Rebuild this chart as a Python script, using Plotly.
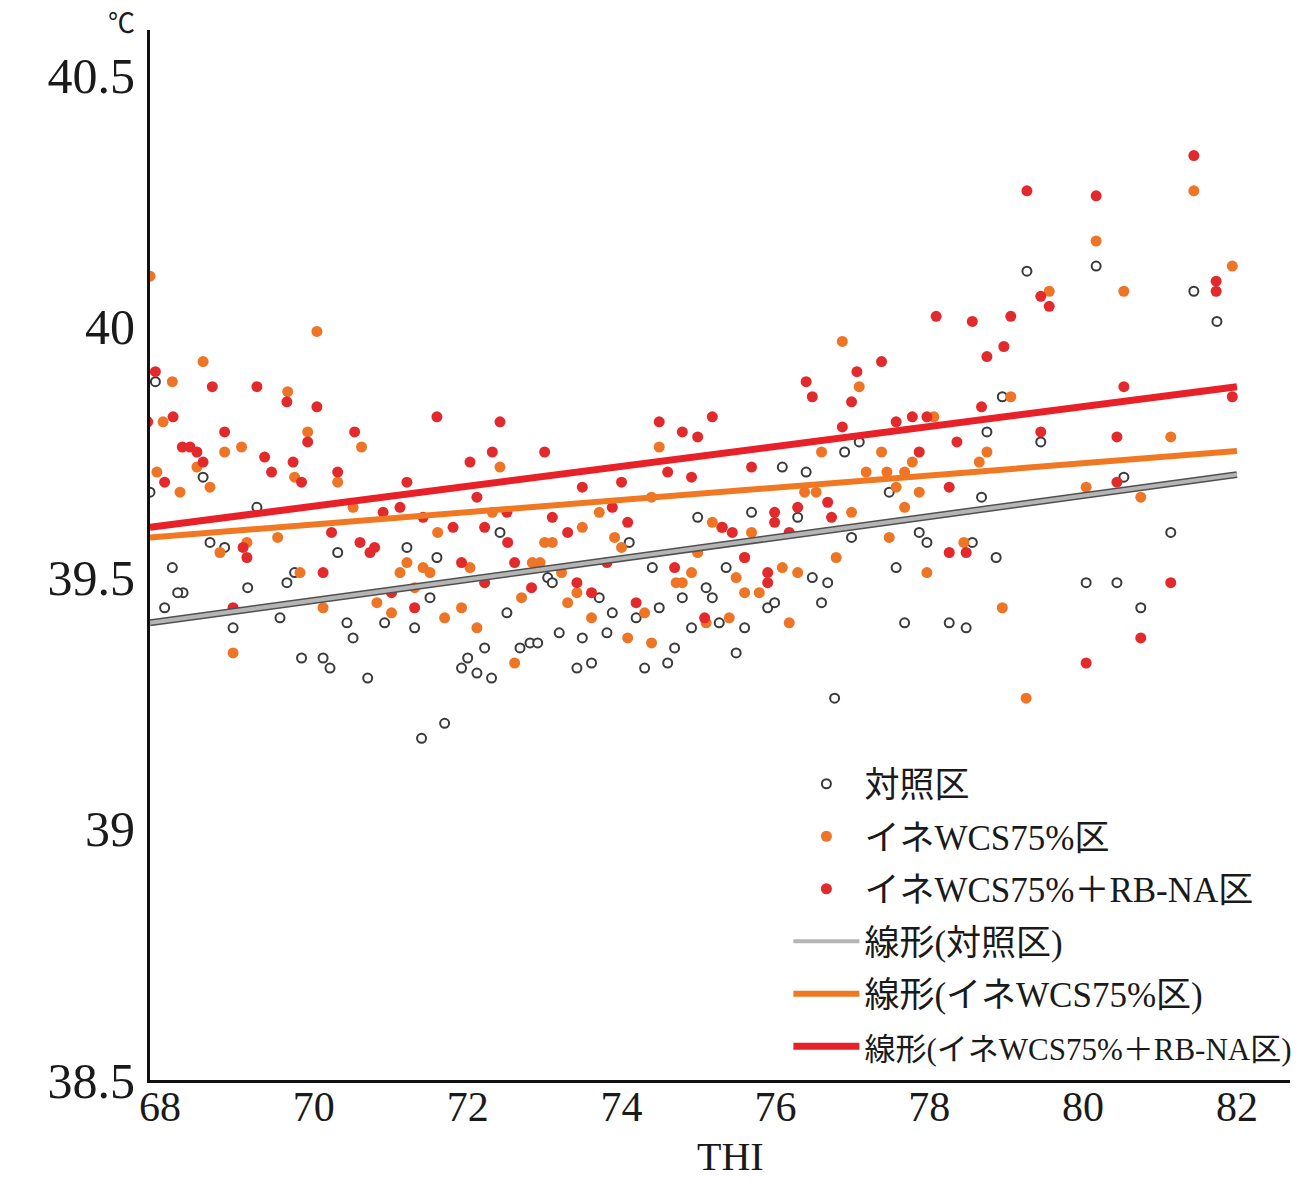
import plotly.graph_objects as go

# ---- data ----
ctrl_thi = [67.87, 67.94, 68.16, 68.06, 68.30, 68.23, 68.56, 68.65, 68.84, 69.26, 69.14, 68.95, 69.56, 69.65,
            69.75, 69.84, 70.12, 70.21, 70.31, 70.43, 70.51, 70.70, 70.92, 71.21, 71.31, 71.40, 71.51, 71.60,
            71.70, 71.92, 72.00, 72.12, 72.22, 72.31, 72.42, 72.51, 72.68, 72.81, 72.91, 73.04, 73.10, 73.19,
            73.42, 73.49, 73.61, 73.71, 73.81, 73.88, 74.10, 74.19, 74.30, 74.40, 74.49, 74.60, 74.69, 74.79,
            74.91, 74.99, 75.10, 75.18, 75.27, 75.36, 75.49, 75.60, 75.69, 75.90, 75.99, 76.09, 76.29, 76.40,
            76.48, 76.60, 76.68, 76.77, 76.90, 76.99, 77.09, 77.48, 77.57, 77.68, 77.87, 77.97, 78.26, 78.48,
            78.56, 78.68, 78.75, 78.87, 78.95, 79.27, 79.45, 80.04, 80.17, 80.44, 80.53, 80.75, 81.14, 81.44,
            81.74]
ctrl_temp = [39.67, 39.89, 39.52, 39.44, 39.47, 39.47, 39.70, 39.57, 39.56, 39.64, 39.48, 39.40, 39.42, 39.49,
             39.51, 39.34, 39.34, 39.32, 39.55, 39.41, 39.38, 39.30, 39.41, 39.56, 39.40, 39.18, 39.46, 39.54,
             39.21, 39.32, 39.34, 39.31, 39.36, 39.30, 39.59, 39.43, 39.36, 39.37, 39.37, 39.50, 39.49, 39.39,
             39.32, 39.38, 39.33, 39.46, 39.39, 39.43, 39.57, 39.42, 39.32, 39.52, 39.44, 39.33, 39.36, 39.46,
             39.40, 39.62, 39.48, 39.46, 39.41, 39.52, 39.35, 39.40, 39.63, 39.44, 39.45, 39.72, 39.62, 39.71,
             39.50, 39.45, 39.49, 39.26, 39.75, 39.58, 39.77, 39.67, 39.52, 39.41, 39.59, 39.57, 39.41, 39.40,
             39.57, 39.66, 39.79, 39.54, 39.86, 40.11, 39.77, 39.49, 40.12, 39.49, 39.70, 39.44, 39.59, 40.07,
             40.01]

wcs_thi = [67.87, 70.04, 68.56, 68.16, 68.04, 68.84, 69.06, 69.66, 69.92, 70.62, 68.26, 68.65, 68.48, 67.96,
           69.75, 70.31, 70.51, 68.78, 69.13, 69.53, 69.82, 70.12, 68.95, 70.82, 71.01, 71.12, 71.42, 71.51,
           71.31, 71.21, 72.42, 74.49, 71.61, 72.32, 73.71, 73.49, 73.00, 73.10, 73.91, 74.00, 74.39, 75.18,
           75.30, 74.99, 72.03, 72.84, 72.94, 73.22, 73.42, 72.70, 73.30, 71.92, 71.70, 72.12, 72.61, 73.61,
           74.30, 74.08, 74.39, 74.91, 74.71, 74.79, 75.10, 76.87, 77.09, 76.60, 77.38, 78.75, 77.78, 77.18,
           77.45, 77.68, 78.06, 79.06, 77.57, 77.87, 77.68, 76.99, 76.38, 76.53, 75.69, 77.48, 78.45, 78.65,
           76.79, 75.60, 75.49, 76.09, 76.29, 75.60, 75.79, 77.97, 76.18, 78.95, 75.40, 81.44, 80.17, 81.94,
           79.56, 80.53, 81.14, 80.04, 80.75, 79.26]
wcs_temp = [40.10, 39.99, 39.93, 39.89, 39.81, 39.75, 39.76, 39.87, 39.79, 39.76, 39.67, 39.68, 39.72, 39.71,
            39.70, 39.69, 39.64, 39.55, 39.57, 39.58, 39.51, 39.44, 39.35, 39.45, 39.43, 39.51, 39.52, 39.51,
            39.48, 39.53, 39.72, 39.76, 39.59, 39.63, 39.63, 39.60, 39.57, 39.57, 39.58, 39.56, 39.66, 39.61,
            39.60, 39.55, 39.52, 39.53, 39.53, 39.51, 39.47, 39.46, 39.45, 39.44, 39.42, 39.40, 39.33, 39.42,
            39.43, 39.38, 39.37, 39.51, 39.49, 39.49, 39.41, 39.97, 39.88, 39.75, 39.75, 39.75, 39.73, 39.71,
            39.71, 39.71, 39.82, 39.86, 39.68, 39.67, 39.64, 39.63, 39.67, 39.67, 39.59, 39.58, 39.57, 39.73,
            39.54, 39.54, 39.50, 39.52, 39.51, 39.47, 39.47, 39.51, 39.41, 39.44, 39.42, 40.27, 40.17, 40.12,
            40.07, 40.07, 39.78, 39.68, 39.66, 39.26]

rb_thi = [67.94, 68.68, 69.26, 69.65, 70.04, 68.17, 67.84, 68.84, 68.29, 68.39, 68.48, 68.56, 69.36, 69.45,
          69.73, 69.84, 69.92, 70.31, 70.53, 71.21, 71.60, 68.06, 70.23, 70.60, 70.79, 69.08, 70.90, 71.12,
          71.42, 69.13, 70.12, 70.73, 71.01, 71.31, 68.95, 72.42, 72.03, 72.32, 73.00, 74.49, 74.79, 74.99,
          75.18, 73.49, 74.00, 74.60, 74.91, 72.12, 73.10, 73.30, 74.08, 72.22, 72.52, 71.81, 73.88, 72.51,
          71.92, 72.61, 73.42, 72.83, 73.61, 74.19, 74.69, 75.08, 72.22, 73.81, 78.09, 78.56, 79.06, 78.97,
          78.75, 77.38, 77.06, 76.40, 76.48, 76.99, 78.68, 76.87, 77.57, 77.78, 77.97, 78.36, 77.87, 75.69,
          78.26, 76.29, 76.68, 75.99, 75.99, 76.18, 76.73, 75.31, 75.44, 78.48, 78.26, 75.60, 75.90, 75.90,
          81.44, 79.27, 80.17, 81.73, 81.73, 79.45, 79.56, 80.53, 81.94, 80.44, 79.45, 80.44, 81.14, 80.75,
          80.04]
rb_temp = [39.91, 39.88, 39.88, 39.85, 39.84, 39.82, 39.81, 39.79, 39.76, 39.76, 39.75, 39.73, 39.74, 39.71,
           39.73, 39.69, 39.77, 39.71, 39.79, 39.69, 39.82, 39.69, 39.59, 39.57, 39.56, 39.56, 39.63, 39.64,
           39.62, 39.54, 39.51, 39.55, 39.47, 39.44, 39.44, 39.81, 39.73, 39.75, 39.75, 39.81, 39.79, 39.78,
           39.82, 39.68, 39.69, 39.71, 39.70, 39.66, 39.62, 39.59, 39.61, 39.60, 39.57, 39.60, 39.64, 39.63,
           39.53, 39.53, 39.49, 39.48, 39.47, 39.45, 39.52, 39.42, 39.49, 39.53, 40.02, 40.01, 40.02, 39.96,
           39.94, 39.93, 39.91, 39.89, 39.86, 39.85, 39.84, 39.80, 39.81, 39.82, 39.82, 39.77, 39.75, 39.72,
           39.68, 39.64, 39.65, 39.63, 39.61, 39.59, 39.62, 39.60, 39.59, 39.55, 39.55, 39.54, 39.51, 39.49,
           40.34, 40.27, 40.26, 40.09, 40.07, 40.06, 40.04, 39.88, 39.86, 39.78, 39.79, 39.69, 39.49, 39.38,
           39.33]

# linear trend lines (end points)
trend_thi = [67.87, 82.0]
trend_ctrl = [39.41, 39.705]
trend_wcs = [39.58, 39.752]
trend_rb = [39.60, 39.880]

names = ["対照区", "イネWCS75%区", "イネWCS75%＋RB-NA区",
         "線形(対照区)", "線形(イネWCS75%区)", "線形(イネWCS75%＋RB-NA区)"]

x_ticks = [68, 70, 72, 74, 76, 78, 80, 82]
y_ticks = [38.5, 39, 39.5, 40, 40.5]
y_tick_text = ["38.5", "39", "39.5", "40", "40.5"]

SERIF = "Liberation Serif, Noto Sans CJK JP, serif"

fig = go.Figure()
fig.add_trace(go.Scatter(x=ctrl_thi, y=ctrl_temp, mode="markers", name=names[0], legendgroup="g0",
                         marker=dict(size=9, color="white", line=dict(color="#3a3a3a", width=2))))
fig.add_trace(go.Scatter(x=wcs_thi, y=wcs_temp, mode="markers", name=names[1], legendgroup="g1",
                         marker=dict(size=11, color="#EE7426", line=dict(width=0))))
fig.add_trace(go.Scatter(x=rb_thi, y=rb_temp, mode="markers", name=names[2], legendgroup="g2",
                         marker=dict(size=11, color="#E22A2C", line=dict(width=0))))
# control trend: dark outline beneath a light grey core
fig.add_trace(go.Scatter(x=trend_thi, y=trend_ctrl, mode="lines", showlegend=False, legendgroup="g3",
                         line=dict(color="#505050", width=7), hoverinfo="skip"))
fig.add_trace(go.Scatter(x=trend_thi, y=trend_ctrl, mode="lines", name=names[3], legendgroup="g3",
                         line=dict(color="#B5B5B5", width=4)))
fig.add_trace(go.Scatter(x=trend_thi, y=trend_wcs, mode="lines", name=names[4], legendgroup="g4",
                         line=dict(color="#F07822", width=6)))
fig.add_trace(go.Scatter(x=trend_thi, y=trend_rb, mode="lines", legendgroup="g5",
                         name='<span style="font-size:31px">' + names[5] + '</span>',
                         line=dict(color="#E82028", width=7)))

fig.update_layout(
    width=1295, height=1170,
    margin=dict(l=142, r=13, t=22, b=98, autoexpand=False),
    paper_bgcolor="white", plot_bgcolor="white",
    font=dict(family=SERIF, color="#1a1a1a"),
    xaxis=dict(range=[67.87, 82.69], tickvals=x_ticks, showgrid=False, zeroline=False,
               showline=True, linecolor="#111", linewidth=3, ticks="",
               tickfont=dict(size=42, family=SERIF), ticklabelstandoff=-12),
    yaxis=dict(range=[38.5, 40.59], tickvals=y_ticks, ticktext=y_tick_text, showgrid=False,
               zeroline=False, showline=True, linecolor="#111", linewidth=3, ticks="",
               tickfont=dict(size=50, family=SERIF), ticklabelstandoff=2),
    legend=dict(x=0.56, y=0.31, xanchor="left", yanchor="top",
                font=dict(size=35, family=SERIF), itemwidth=66,
                bgcolor="rgba(0,0,0,0)", tracegroupgap=4, traceorder="grouped"),
    showlegend=True,
)
fig.add_annotation(text="THI", xref="paper", yref="paper", x=0.5088, y=-0.0724,
                   showarrow=False, font=dict(size=40, family=SERIF), xanchor="center", yanchor="middle")
fig.add_annotation(text="℃", xref="paper", yref="paper", x=-0.025, y=1.0057,
                   showarrow=False, font=dict(size=27, family=SERIF), xanchor="center", yanchor="middle")

fig.write_html("out.html")
